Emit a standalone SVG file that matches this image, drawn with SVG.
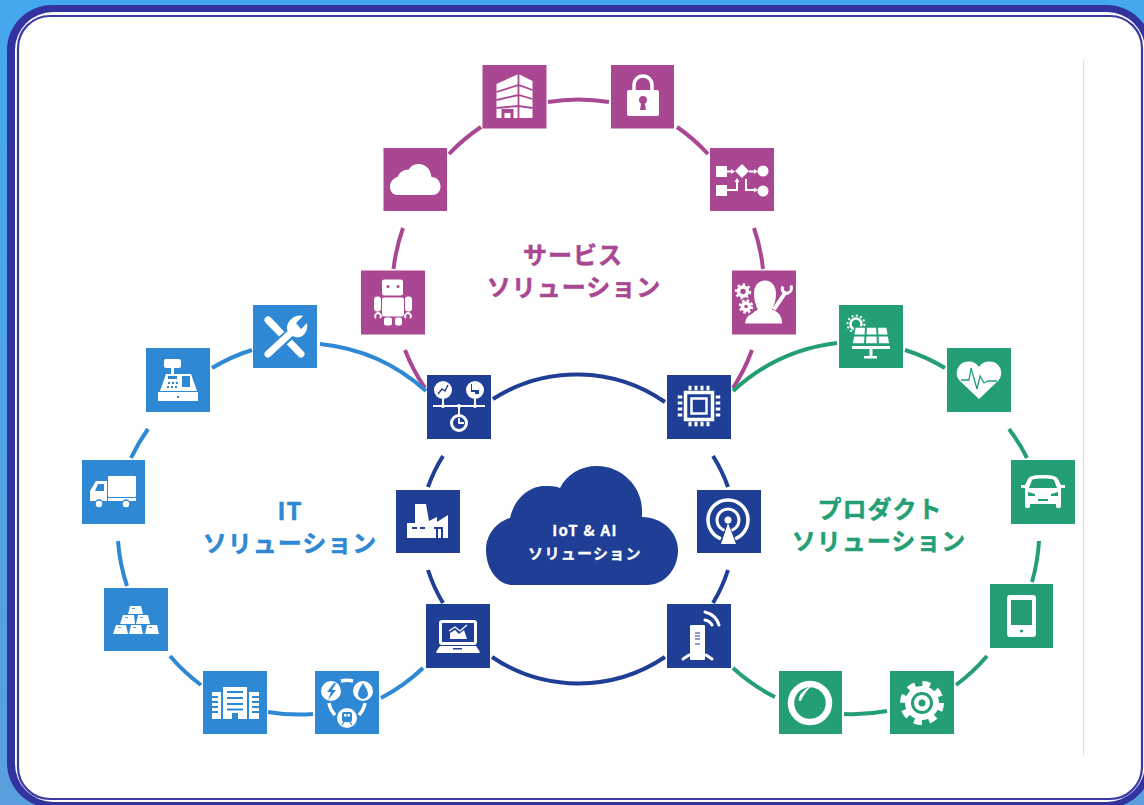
<svg xmlns="http://www.w3.org/2000/svg" width="1144" height="805" viewBox="0 0 1144 805">
<style>
.s{color:#AA4792}.i{color:#2E88D4}.p{color:#249F75}.n{color:#1F3E96}
.box{fill:currentColor}
.w{fill:#fff}.c{fill:currentColor}
.ws{fill:none;stroke:#fff}.cs{fill:none;stroke:currentColor}
.arc{fill:none;stroke:currentColor;stroke-width:4}
text{font-family:"Noto Sans CJK JP","Noto Sans",sans-serif;font-weight:700;text-anchor:middle;stroke-linejoin:round}
.t{font-size:24px;letter-spacing:1px;fill:currentColor;stroke:currentColor;stroke-width:.5px}
.cl{font-size:15px;letter-spacing:1.300px;fill:#fff;stroke:#fff;stroke-width:.3px}
</style>
<defs>
<linearGradient id="bg" x1="0" y1="0" x2="0" y2="1"><stop offset="0" stop-color="#45A8EE"/><stop offset="1" stop-color="#5A9FDC"/></linearGradient>
</defs>
<rect width="1144" height="805" fill="url(#bg)"/>
<rect x="7" y="5" width="1145" height="803" rx="45" fill="#3333A0"/>
<rect x="15" y="12" width="1130" height="790" rx="38" fill="#fff"/>
<rect x="18" y="16" width="1124" height="783" rx="32" fill="#fff" stroke="#3B3BA5" stroke-width="2.200"/>
<rect x="1083" y="60" width="1" height="695" fill="#DEDEDE"/>
<g id="connectors">
<g class="s">
<path class="arc" d="M548 102A186 186 0 0 1 609 102"/>
<path class="arc" d="M449 154A186 186 0 0 1 481 127"/>
<path class="arc" d="M677 127A186 186 0 0 1 708 154"/>
<path class="arc" d="M393.500 269A186 186 0 0 1 403 228"/>
<path class="arc" d="M754 228A186 186 0 0 1 763 269"/>
<path class="arc" d="M425 388A186 186 0 0 1 405 350"/>
<path class="arc" d="M752 350A186 186 0 0 1 733 388"/>
</g>
<g class="i">
<path class="arc" d="M212 368A186 186 0 0 1 252 350"/>
<path class="arc" d="M320 344A186 186 0 0 1 426 391"/>
<path class="arc" d="M131 458A186 186 0 0 1 148 429"/>
<path class="arc" d="M127 586A186 186 0 0 1 118 541"/>
<path class="arc" d="M201 685A186 186 0 0 1 170 656"/>
<path class="arc" d="M313 714A186 186 0 0 1 268 712"/>
<path class="arc" d="M423 668A186 186 0 0 1 381 698"/>
</g>
<g class="p">
<path class="arc" d="M733 391A186 186 0 0 1 837 343"/>
<path class="arc" d="M905 350A186 186 0 0 1 945 368"/>
<path class="arc" d="M1009 429A186 186 0 0 1 1027 458"/>
<path class="arc" d="M1039 541A186 186 0 0 1 1032 582"/>
<path class="arc" d="M987 656A186 186 0 0 1 956 685"/>
<path class="arc" d="M887 711A186 186 0 0 1 844 714"/>
<path class="arc" d="M775 697A186 186 0 0 1 733 668"/>
</g>
<g class="n">
<path class="arc" d="M493 399A155 155 0 0 1 665 402"/>
<path class="arc" d="M713 456A155 155 0 0 1 728 487"/>
<path class="arc" d="M728 570A155 155 0 0 1 713 603"/>
<path class="arc" d="M665 657A155 155 0 0 1 492 657"/>
<path class="arc" d="M443 603A155 155 0 0 1 428 570"/>
<path class="arc" d="M428 487A155 155 0 0 1 443 456"/>
</g>
</g>

<!-- Service -->
<g id="building" class="s" transform="translate(482.500 65)"><rect class="box" width="64" height="63.500"/>
<path class="w" d="M14 19L36 9L50 16V53H14Z"/>
<path class="cs" stroke-width="1.800" d="M14 27L36 20L50 25M14 35L36 30L50 34M14 43L36 41L50 43M36 9V53"/>
<path class="c" d="M19 53V44H31V53H28V48H22V53Z"/></g>
<g id="lock" class="s" transform="translate(611 65)"><rect class="box" width="63" height="63.500"/>
<path class="ws" stroke-width="3.500" d="M23 27V20A9 9 0 0 1 41 20V27"/>
<rect class="w" x="16" y="25" width="32" height="26" rx="2"/>
<circle class="c" cx="32" cy="35" r="4"/><path class="c" d="M30.500 36H33.500L35 45H29Z"/></g>
<g id="cloud-svc" class="s" transform="translate(383.500 148)"><rect class="box" width="63.500" height="63"/>
<path class="w" d="M14 47C9 47 6.500 43 6.500 38.500C6.500 34 10 30 14 29C16 24 21 21 25 22C27 18 31 16 35 16C42 16 47 21 48 29C53 29 57 33 57 38.500C57 43 54 47 49 47Z"/></g>
<g id="flow" class="s" transform="translate(710 148)"><rect class="box" width="64" height="63"/>
<rect class="w" x="6" y="18" width="11" height="11"/><rect class="w" x="6" y="37" width="11" height="11"/>
<path class="w" d="M32 16L39 23L32 30L25 23Z"/>
<circle class="w" cx="53" cy="23" r="5.500"/><circle class="w" cx="53" cy="43" r="5.500"/>
<path class="ws" stroke-width="2" d="M17 23.500H22M39 23.500H45M17 42H27V33M36 31V42H45"/>
<path class="w" d="M21 21L25 23.500L21 26ZM44 21L48 23.500L44 26ZM44 39.500L48 42L44 44.500ZM24.500 34L27 30L29.500 34Z"/></g>
<g id="robot" class="s" transform="translate(361 270.500)"><rect class="box" width="64" height="64"/>
<rect class="w" x="21" y="9" width="21" height="16" rx="2.500"/><circle class="c" cx="27" cy="16" r="1.500"/><circle class="c" cx="37" cy="16" r="1.500"/>
<rect class="w" x="21" y="27" width="22" height="19" rx="2"/>
<rect class="w" x="13" y="26" width="7" height="15" rx="3"/><rect class="w" x="44" y="26" width="7" height="15" rx="3"/>
<path class="ws" stroke-width="1.800" d="M15 47.500A2.800 2.800 0 1 1 19 47.500M45 47.500A2.800 2.800 0 1 1 49 47.500"/>
<rect class="w" x="23" y="47" width="8" height="8" rx="2"/><rect class="w" x="34" y="47" width="7" height="8" rx="2"/></g>
<g id="engineer" class="s" transform="translate(732 270.500)"><rect class="box" width="64" height="64"/>
<path class="w" d="M13 53C14 45 20 42 26 39C24 36 22 30 22 23C22 15 27 10 33 10C40 10 44 16 44 23C44 30 42 35 40 39C46 41 50 45 50 53Z"/>
<circle class="ws" cx="11" cy="21" r="4.500" stroke-width="3.500"/><circle class="ws" cx="11" cy="21" r="7" stroke-width="2.500" stroke-dasharray="2.500 2.900"/>
<circle class="c" cx="15" cy="36" r="9"/><circle class="ws" cx="14" cy="36" r="3.500" stroke-width="3.500"/><circle class="ws" cx="14" cy="36" r="6" stroke-width="2.500" stroke-dasharray="2.500 2.200"/>
<path class="ws" stroke-width="4" d="M42 39L54 21"/><path class="ws" stroke-width="3" d="M51 16C49 20 52 25 57 22C59 21 60 18 59 15"/></g>

<!-- IT -->
<g id="tools" class="i" transform="translate(253 305)"><rect class="box" width="64" height="63"/>
<path class="ws" stroke-width="7" stroke-linecap="round" d="M16 16L48 49"/>
<path class="cs" stroke-width="11" d="M13 51L50 17"/>
<path class="ws" stroke-width="7" stroke-linecap="round" d="M15 49L42 24"/>
<path class="w" d="M34 25C33 15 43 9 50 11L43 18L48 24L54 18C56 27 48 36 40 31Z"/>
<path class="ws" stroke-width="7" stroke-linecap="round" d="M15 15L22 22"/></g>
<g id="register" class="i" transform="translate(146 348)"><rect class="box" width="64" height="64"/>
<rect class="w" x="18" y="11" width="17" height="9" rx="2"/><rect class="w" x="25" y="19" width="3" height="7"/>
<path class="w" d="M20 26H45L51 43H14Z"/>
<rect class="w" x="12" y="44" width="40" height="9"/>
<rect class="c" x="22" y="28" width="9" height="3"/><rect class="c" x="36" y="28" width="8" height="11"/>
<path class="c" d="M22 34h2v2h-2zM26 34h2v2h-2zM30 34h2v2h-2zM21 38h2v2h-2zM25 38h2v2h-2zM29 38h2v2h-2z"/>
<rect class="c" x="31" y="48" width="2" height="2"/></g>
<g id="truck" class="i" transform="translate(82 460)"><rect class="box" width="63" height="64"/>
<rect class="w" x="26" y="16" width="28" height="21" rx="1"/><rect class="w" x="26" y="38" width="28" height="3"/>
<path class="w" d="M8 31L14 21H25V41H8Z"/><path class="c" d="M13 31L16 24H22V31Z"/>
<circle class="w" cx="17" cy="44" r="4" stroke="#2E88D4" stroke-width="1.500"/><circle class="w" cx="44" cy="44" r="4" stroke="#2E88D4" stroke-width="1.500"/></g>
<g id="gold" class="i" transform="translate(104 588)"><rect class="box" width="64" height="63"/>
<path class="w" d="M26 18H37L39 26H24ZM19 27H30L31 36H16ZM34 27H44L46 36H32ZM12 37H22L24 46H9ZM27 37H37L39 46H25ZM43 37H53L55 46H41Z"/>
<path class="cs" stroke-width=".8" d="M28 20.500H31M21 29.500H24M36 29.500H39M14 39.500H17M29 39.500H32M45 39.500H48"/></g>
<g id="office" class="i" transform="translate(203 671)"><rect class="box" width="64" height="63"/>
<rect class="w" x="20" y="16" width="24" height="32"/><rect class="w" x="9" y="21" width="9" height="27"/><rect class="w" x="46" y="21" width="10" height="27"/>
<path class="cs" stroke-width="1.800" d="M24 21H40M24 27H40M24 33H40M24 38.500H40M9 26H15M9 31H15M9 36H15M9 41H15M49 26H56M49 31H56M49 36H56M49 41H56"/>
<rect class="c" x="29" y="42" width="6" height="6"/></g>
<g id="utilities" class="i" transform="translate(315 671)"><rect class="box" width="64" height="63"/>
<path class="ws" stroke-width="3.500" d="M26 10A24 24 0 0 1 38 10M14 32A23 23 0 0 0 20 44M50 32A23 23 0 0 1 44 44"/>
<circle class="w" cx="16" cy="20" r="10"/><circle class="w" cx="48" cy="20" r="10"/><circle class="w" cx="32" cy="47" r="10"/>
<path class="c" d="M19 12L12 21H16L13 29L21 19H17L21 12Z"/>
<path class="c" d="M48 12C45 17 43 20 43 23A5 5 0 0 0 53 23C53 20 51 17 48 12Z"/>
<rect class="c" x="27" y="41" width="10" height="10" rx="2"/><path class="w" d="M29 43h2.500v2.500h-2.500zM32.500 43h2.500v2.500h-2.500z"/>
<path class="cs" stroke-width="1.200" d="M27 54L29 51M37 54L35 51"/></g>

<!-- Center -->
<g id="iot-bus" class="n" transform="translate(427 375)"><rect class="box" width="64" height="64"/>
<circle class="w" cx="16" cy="15" r="9"/><circle class="w" cx="48" cy="15" r="9"/>
<path class="cs" stroke-width="1.400" d="M11 19L15 14L18 16L21 10"/>
<path class="c" d="M45 9V15H52V19H48V17H44V9Z"/>
<path class="ws" stroke-width="2" d="M6 31H58M16 24V31M48 24V31M32 31V40"/>
<circle class="ws" cx="32" cy="48" r="7.500" stroke-width="3"/><path class="ws" stroke-width="1.800" d="M32 43V48H37"/>
<circle class="w" cx="16" cy="31" r="2"/><circle class="w" cx="32" cy="31" r="2"/><circle class="w" cx="48" cy="31" r="2"/></g>
<g id="chip" class="n" transform="translate(667 375)"><rect class="box" width="64" height="64"/>
<rect class="ws" x="18.500" y="17.500" width="27" height="27" stroke-width="3.500"/>
<rect class="ws" x="24.500" y="23.500" width="15" height="15" stroke-width="2.500"/>
<path class="ws" stroke-width="4.500" stroke-dasharray="3 3" d="M21.500 13H42.500M21.500 49H42.500M13 20.500V41.500M51 20.500V41.500"/></g>
<g id="factory" class="n" transform="translate(396 490)"><rect class="box" width="64" height="63"/>
<path class="w" d="M19 14H30L33 31L41 27V32L52 25V48H11V33H19Z"/>
<path class="cs" stroke-width="2" d="M16 38H21M24 38H29M38 38H47M41 48V39M46 48V39"/></g>
<g id="antenna" class="n" transform="translate(697 490)"><rect class="box" width="64" height="63"/>
<circle class="ws" cx="31" cy="30" r="20" stroke-width="3.500"/><circle class="ws" cx="31" cy="30" r="11" stroke-width="3"/>
<path class="c" d="M31 32L20 58H42Z"/><circle class="w" cx="31" cy="30" r="3.500"/><path class="w" d="M31 33L24 54H39Z"/></g>
<g id="laptop" class="n" transform="translate(426 604)"><rect class="box" width="64" height="64"/>
<rect class="ws" x="14.500" y="17.500" width="35" height="22" rx="1.500" stroke-width="3"/>
<path class="w" d="M10 48L14 42H50L54 48L53 49H11Z"/><rect class="c" x="27" y="44" width="9" height="1.500"/>
<path class="w" d="M24 35V29L29 26L33 30L38 26L41 35Z"/>
<path class="ws" stroke-width="1.300" d="M23 27L29 23L34 27L41 21"/></g>
<g id="router" class="n" transform="translate(667 604)"><rect class="box" width="64" height="64"/>
<rect class="w" x="23" y="21" width="15" height="35" rx="1"/>
<path class="cs" stroke-width="1" d="M28 29H33M28 32H33M28 35H33M28 40H33"/>
<path class="ws" stroke-width="3" stroke-linecap="round" d="M16 55L22 51M39 51L45 55M38 8Q49 11 52 21M38 16Q43 17 45 21"/></g>

<!-- Product -->
<g id="solar" class="p" transform="translate(839 305)"><rect class="box" width="64" height="63"/>
<circle class="ws" cx="17" cy="19" r="5.500" stroke-width="2.500"/><circle class="ws" cx="17" cy="19" r="8.500" stroke-width="2" stroke-dasharray="2 2.400"/>
<path class="w" d="M16 22H48L51 39H13Z" stroke="#249F75" stroke-width="1.500"/>
<path class="cs" stroke-width="2" d="M14 30.500H50M27 22L26 39M38 22L39 39"/>
<rect class="w" x="13" y="41" width="38" height="3"/><rect class="w" x="30.500" y="44" width="3" height="7"/><rect class="w" x="25" y="51" width="13" height="2.500"/></g>
<g id="heart" class="p" transform="translate(947 348)"><rect class="box" width="64" height="64"/>
<path class="w" d="M32 51L13 33C8 28 9 20 14 16C20 12 28 13 32 19C36 13 44 12 50 16C55 20 56 28 51 33Z"/>
<path class="cs" stroke-width="1.300" d="M14 32H22L24 20L30 41L33 28L37 35L41 33H50"/></g>
<g id="car" class="p" transform="translate(1011 460)"><rect class="box" width="64" height="64"/>
<path class="w" d="M17 19C19 16 22 15 32 15C42 15 45 16 47 19L50 25H54V28H50V46C50 49 45 49 45 46V44H19V46C19 49 14 49 14 46V28H10V25H14Z"/>
<path class="c" d="M21 20C23 18 41 18 43 20L46 28H18Z"/>
<path class="c" d="M17 32L24 34V36H17ZM47 32L40 34V36H47ZM27 39H37V41H27Z"/></g>
<g id="tablet" class="p" transform="translate(990 584)"><rect class="box" width="63" height="64"/>
<rect class="w" x="17" y="11" width="29" height="42" rx="3"/><rect class="c" x="21" y="16" width="21" height="25"/><circle class="c" cx="31.500" cy="47" r="1.600"/></g>
<g id="gear" class="p" transform="translate(890 671)"><rect class="box" width="64" height="63"/>
<circle class="w" cx="32" cy="32" r="17"/>
<circle class="ws" cx="32" cy="32" r="18.500" stroke-width="7" stroke-dasharray="7.500 7"/>
<circle class="c" cx="32" cy="32" r="11"/><circle class="w" cx="32" cy="32" r="8"/><circle class="c" cx="32" cy="32" r="3.500"/></g>
<g id="lens" class="p" transform="translate(779 671)"><rect class="box" width="63" height="63"/>
<circle class="ws" cx="31" cy="32" r="19" stroke-width="6.500"/>
<path class="w" d="M20 29C21 23 25 19 31 16C27 20 24 24 21.500 29.500Z" stroke="#fff" stroke-width="1"/></g>

<!-- Cloud -->
<g id="iot-cloud" class="n">
<path class="box" d="M513 585C497 585 486 568 486 550C486 535 496 522 510 518C514 500 528 486 545 486C550 486 555 486 560 488C567 474 581 466 597 466C622 466 642 487 642 510L642 517C662 517 678 532 678 550C678 570 664 585 647 585Z"/>
<text class="cl" x="585" y="536">IoT &amp; AI</text>
<text class="cl" x="585" y="559">ソリューション</text>
</g>
<text class="t s" x="573" y="264">サービス</text>
<text class="t s" x="574" y="296">ソリューション</text>
<text class="t i" x="290" y="520">IT</text>
<text class="t i" x="290" y="552">ソリューション</text>
<text class="t p" x="880" y="518">プロダクト</text>
<text class="t p" x="879" y="550">ソリューション</text>
</svg>
